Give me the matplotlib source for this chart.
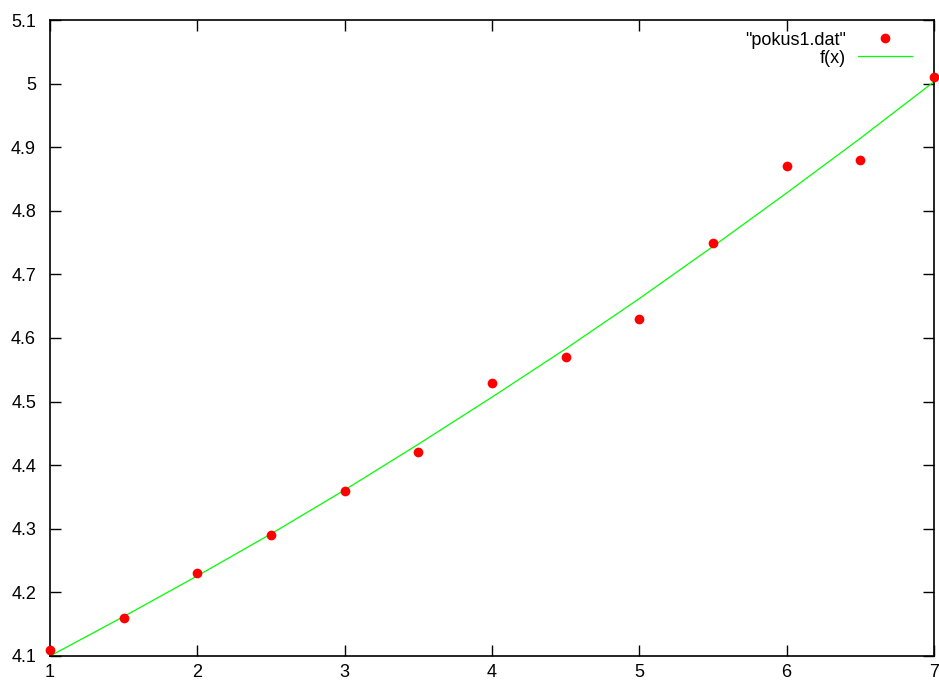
import matplotlib
matplotlib.use('Agg')
import matplotlib.pyplot as plt

plt.rcParams['font.family'] = ['Liberation Sans', 'DejaVu Sans']

# measured points from pokus1.dat
x_dat = [1, 1.5, 2, 2.5, 3, 3.5, 4, 4.5, 5, 5.5, 6, 6.5, 7]
y_dat = [4.11, 4.16, 4.23, 4.29, 4.36, 4.42, 4.53, 4.57, 4.63, 4.75, 4.87, 4.88, 5.01]

# fitted curve f(x)
x_fit = [1, 1.5, 2, 2.5, 3, 3.5, 4, 4.5, 5, 5.5, 6, 6.5, 7]
y_fit = [4.100, 4.162, 4.226, 4.292, 4.361, 4.433, 4.507, 4.583,
         4.662, 4.744, 4.828, 4.914, 5.003]

xticks = [1, 2, 3, 4, 5, 6, 7]
yticks = [4.1, 4.2, 4.3, 4.4, 4.5, 4.6, 4.7, 4.8, 4.9, 5.0, 5.1]
ylabels = ['4.1', '4.2', '4.3', '4.4', '4.5', '4.6', '4.7', '4.8', '4.9', '5', '5.1']

fig = plt.figure(figsize=(9.39, 6.82), dpi=100)
ax = fig.add_axes([50 / 939, 26 / 682, 884 / 939, 636 / 682])

ax.plot(x_dat, y_dat, 'o', color='#ff0000', ms=7, mec='none',
        clip_on=False, zorder=3, label='"pokus1.dat"')
ax.plot(x_fit, y_fit, '-', color='#00ff00', lw=0.9, label='f(x)')

ax.set_xlim(1, 7)
ax.set_ylim(4.1, 5.1)
ax.set_xticks(xticks)
ax.set_yticks(yticks)
ax.set_yticklabels(ylabels)
ax.tick_params(direction='in', length=8, width=1, top=True, right=True,
               labelsize=13)
ax.tick_params(axis='y', pad=10)
ax.tick_params(axis='x', pad=6)
for s in ax.spines.values():
    s.set_linewidth(1.2)

ax.legend(loc='upper right', bbox_to_anchor=(1, 1 + 10 / 636), frameon=False,
          markerfirst=False, fontsize=13, handlelength=3.0,
          handletextpad=0.66, labelspacing=0.05, borderaxespad=0.8)

fig.savefig('out.png', dpi=100)
